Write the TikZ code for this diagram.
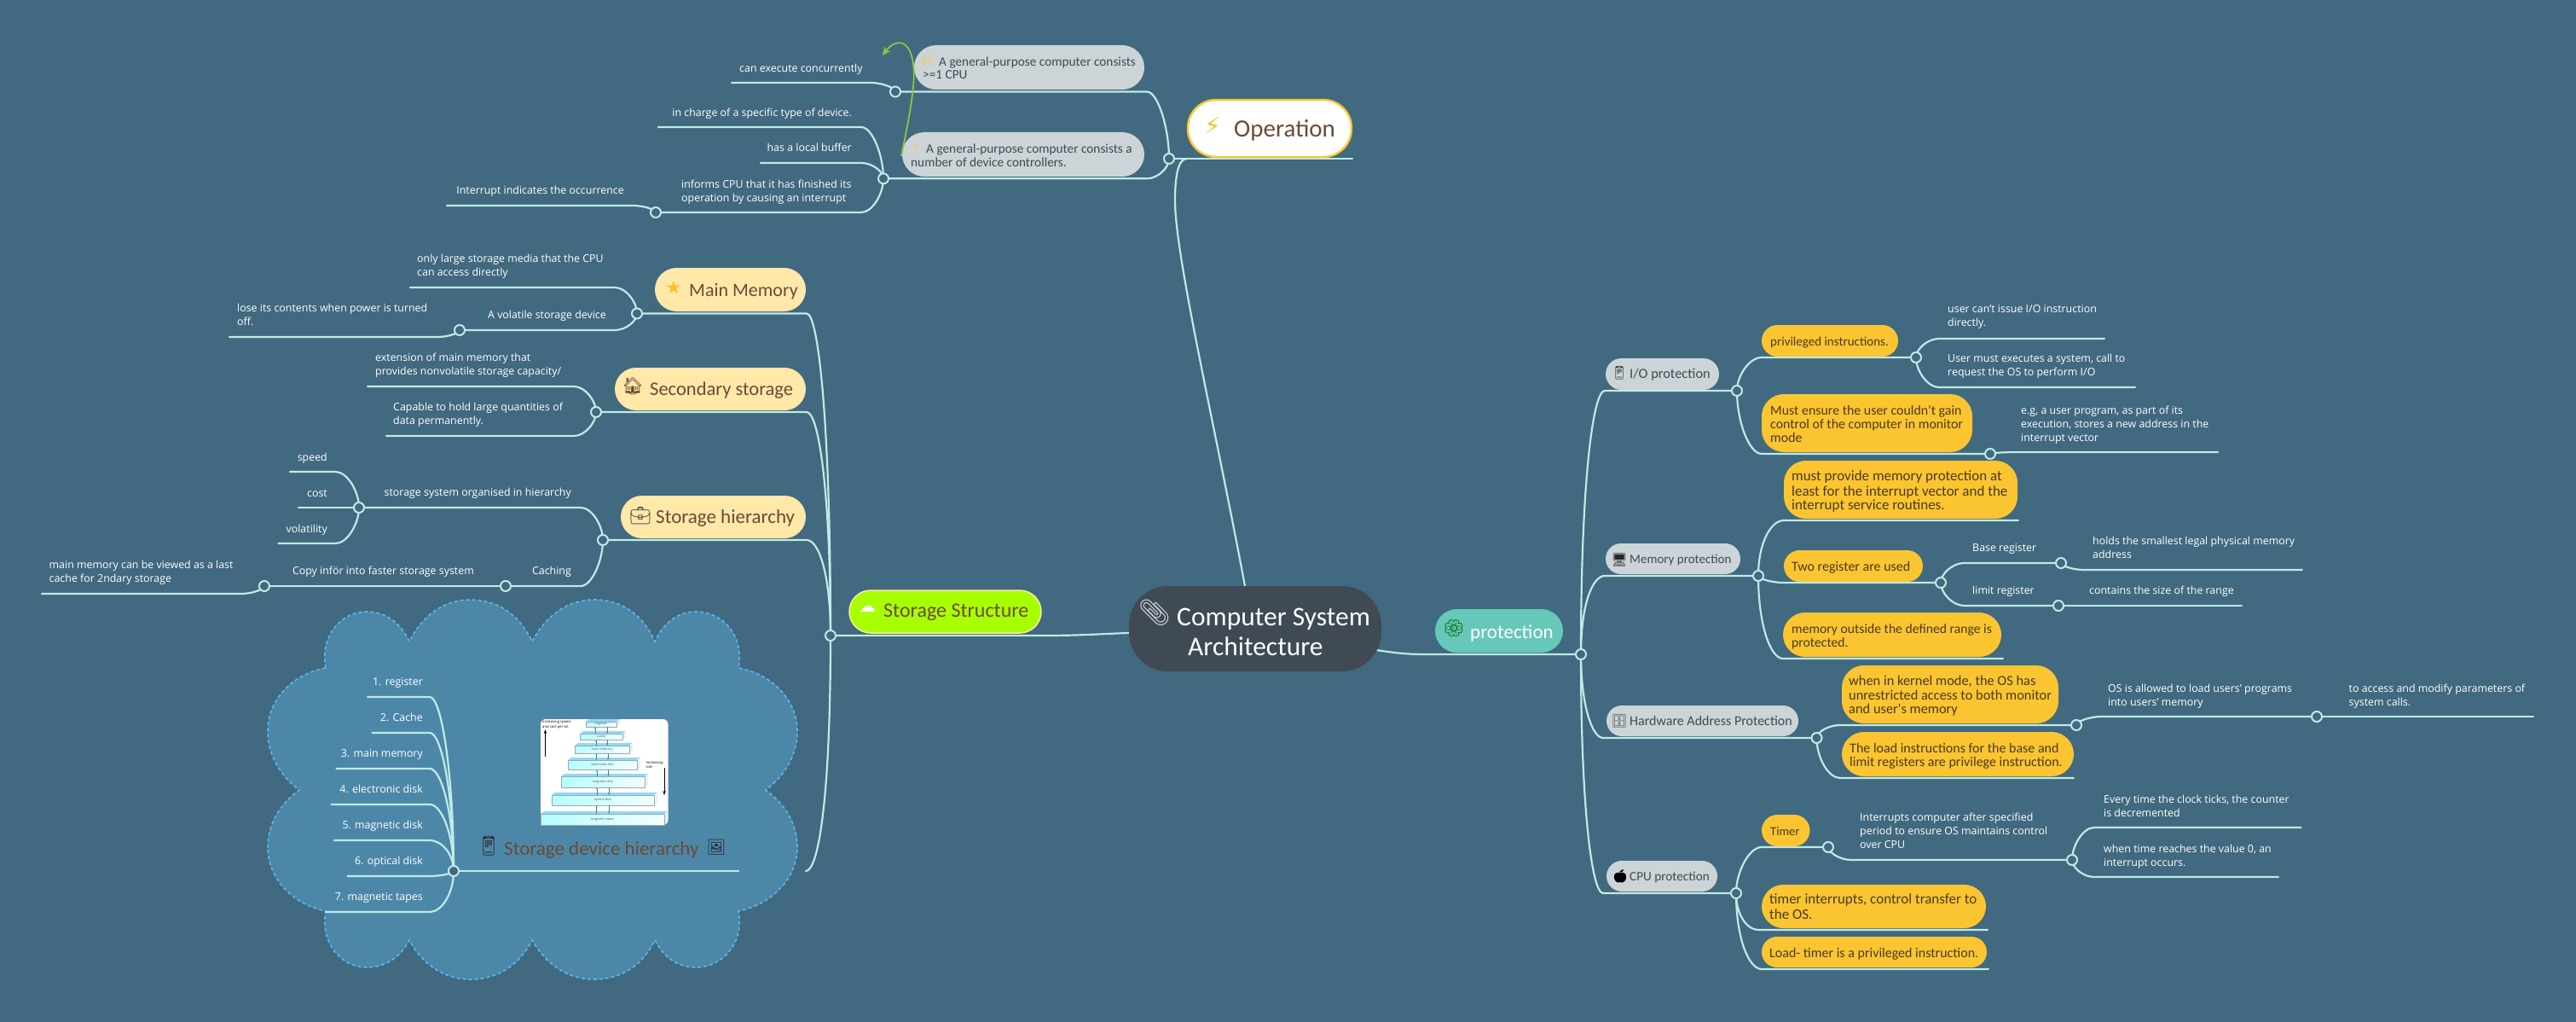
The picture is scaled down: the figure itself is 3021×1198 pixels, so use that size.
\documentclass[tikz,border=0pt]{standalone}
\usepackage{fontspec}
\setmainfont{Open Sans}
\newfontfamily\hwf{Carlito}
\newfontfamily\emo{Noto Emoji}
\newfontfamily\dvs{DejaVu Sans}
\usetikzlibrary{calc,backgrounds,arrows.meta}
\definecolor{bgc}{HTML}{41697F}
\definecolor{cloudc}{HTML}{4D87A8}
\definecolor{dashc}{HTML}{5BB8EF}
\definecolor{linec}{HTML}{BFEAE6}
\definecolor{greyp}{HTML}{CDD4D8}
\definecolor{yelp}{HTML}{FBC531}
\definecolor{creamp}{HTML}{FFE8A8}
\definecolor{brownt}{HTML}{6B4A35}
\definecolor{greyt}{HTML}{3E4A52}
\definecolor{yelt}{HTML}{4A3B1E}
\definecolor{centralc}{HTML}{3F4A54}
\definecolor{limec}{HTML}{A8FF00}
\definecolor{tealp}{HTML}{66C8B8}
\definecolor{greenarrow}{HTML}{8CC63F}
\tikzset{
  conn/.style={draw=linec,line width=2.2pt,line cap=round},
  jn/.style={circle,draw=linec,fill=bgc,line width=2pt,minimum size=12pt,inner sep=0pt},
  pillbase/.style={inner sep=0pt,draw=none},
  lab/.style={inner sep=0pt,align=left,anchor=west,text=white,yshift=-1.2pt,font=\fontsize{12.4}{16}\selectfont},
  labr/.style={inner sep=0pt,align=right,anchor=east,text=white,yshift=-1.2pt,font=\fontsize{12.4}{16}\selectfont},
  hw/.style={inner sep=0pt,align=left,anchor=west,yshift=-1pt},
  icon/.style={inner sep=0pt},
  stackface/.style={draw=black!35,line width=.3pt,left color=cyan!30!white,right color=cyan!5!white},
  stacktxt/.style={inner sep=0pt,font=\fontsize{3.8}{4}\selectfont,text=black!65},
  smalltxt/.style={inner sep=0pt,align=left,anchor=west,font=\fontsize{4.2}{5.5}\selectfont,text=black},
  smallarrow/.style={-{Stealth[length=2.5pt,width=2pt]},draw=cyan!60!black,line width=.5pt},
  blackarrow/.style={-{Stealth[length=5pt,width=3.5pt]},draw=black,line width=.7pt}
}
\newcommand\pill[6]{%
  \pgfmathsetmacro\rrad{min((#5-#3)/2,26)}%
  \pgfmathsetmacro\pw{#4-#2}\pgfmathsetmacro\ph{#5-#3}%
  \pgfmathsetmacro\pcx{(#2+#4)/2}\pgfmathsetmacro\pcy{(#3+#5)/2}%
  \node[pillbase,fill=greyp,rounded corners=\rrad pt,minimum width=\pw pt,minimum height=\ph pt,#6] (#1) at (\pcx,\pcy) {};}
\newcommand\jn[3]{\node[jn] (#1) at (#2,#3) {};}
\newcommand\tl[4]{\node[lab] (#1) at (#2,#3) {\strut #4\strut};}
\newcommand\tr[4]{\node[labr] (#1) at (#2,#3) {\strut #4\strut};}
% name x y colour size text: lines 16 apart
\newcommand\hl[6]{\node[hw,text=#4,font=\hwf\fontsize{#5}{16}\selectfont] (#1) at (#2,#3) {\strut #6\strut};}
\newcommand\hb[6]{\node[hw,text=#4,font=\hwf\fontsize{#5}{#5}\selectfont] (#1) at (#2,#3) {#6};}
\newcommand\ic[6]{\node[icon,text=#5,font=\emo\fontsize{#4}{#4}\selectfont] (#1) at (#2,#3) {#6};}
\newcommand\icd[6]{\node[icon,text=#5,font=\dvs\fontsize{#4}{#4}\selectfont] (#1) at (#2,#3) {#6};}
\newcounter{el}
% ratio, from node, elbow x, elbow y, target
\newcommand\curv[5]{\stepcounter{el}\coordinate (el\theel) at (#3,#4);
  \draw[conn] (#2.center) .. controls ($(#2.center)!#1!(#2.center|-el\theel)$) and ($(el\theel)!0.5!(#2.center|-el\theel)$) .. (el\theel) -- (#5.center);}
% ratio, from node, elbow x, elbow y, free end x
\newcommand\fre[5]{\stepcounter{el}\coordinate (fe\theel) at (#5,#4);\edef\fename{fe\theel}\curv{#1}{#2}{#3}{#4}{\fename}}
\newcommand\stk[6]{% name x1 y1 x2 y2 label
  \fill[cyan!45!white] (#2,#3+3) -- (#2+4,#3) -- (#4,#3) -- (#4-4,#3+3) -- cycle;
  \fill[cyan!12!white] (#4-4,#3+3) -- (#4,#3) -- (#4,#5-3) -- (#4-4,#5) -- cycle;
  \pgfmathsetmacro\pw{#4-#2-4}\pgfmathsetmacro\ph{#5-#3-3}%
  \pgfmathsetmacro\pcx{(#2+#4-4)/2}\pgfmathsetmacro\pcy{(#3+#5+3)/2}%
  \node[stackface,minimum width=\pw pt,minimum height=\ph pt,inner sep=0pt] (#1) at (\pcx,\pcy) {};
  \node[stacktxt] (#1t) at (#1) {#6};}
\begin{document}
\begin{tikzpicture}[x=1pt,y=-1pt]
\useasboundingbox (0,0) rectangle (3021,1198);
% ---------- central and main pills
\pill{central}{1324}{687}{1620}{787}{fill=centralc,rounded corners=46pt}
\ic{iclip}{1354}{718}{30}{greyp}{📎}
\hb{tcen1}{1380}{725}{white}{31.5}{Computer System}
\hb{tcen2}{1393}{757}{white}{31.5}{Architecture}

\pill{opp}{1393}{117}{1585}{184}{fill=white,draw=yelp,line width=2.4pt,rounded corners=33pt}
\icd{iop}{1422}{147}{28}{yelp}{⚡}
\hb{top}{1447}{152}{brownt}{29}{Operation}

\pill{p1}{1072}{53}{1342}{105}{}
\ic{i1}{1088}{71}{13}{yelp}{✨}
\hl{t1a}{1101}{73}{greyt}{15.3}{A general-purpose computer consists}
\hl{t1b}{1082}{88}{greyt}{15.3}{>=1 CPU}
\pill{p2}{1058}{155}{1342}{207}{}
\icd{i2}{1075}{173}{13}{yelp}{⚡}
\hl{t2a}{1086}{175}{greyt}{15.3}{A general-purpose computer consists a}
\hl{t2b}{1068}{191}{greyt}{15.3}{number of device controllers.}

\pill{pmm}{768}{314}{945}{365}{fill=creamp}
\icd{imm}{790}{337}{21}{yelp!90!orange}{★}
\hb{tmm}{808}{341}{brownt}{22}{Main Memory}
\pill{pss}{721}{431}{945}{481}{fill=creamp}
\ic{iss}{742}{453}{20}{brownt}{🏠}
\hb{tss}{762}{457}{brownt}{22.5}{Secondary storage}
\pill{psh}{728}{581}{945}{631}{fill=creamp}
\ic{ish}{751}{605}{20}{black!80}{💼}
\hb{tsh}{769}{606}{brownt}{23}{Storage hierarchy}

\pill{pst}{996}{692}{1221}{742}{fill=limec,draw=creamp,line width=1.5pt}
\icd{ist}{1017}{714}{20}{white}{☁}
\hb{tst}{1036}{717}{brownt}{24}{Storage Structure}

\pill{ppr}{1683}{714}{1833}{765}{fill=tealp}
\ic{ipr}{1705}{737}{20}{green!40!black}{🌼}
\hb{tpr}{1724}{741}{white}{23}{protection}

% ---------- protection children
\pill{pio}{1883}{420}{2016}{457}{}
\ic{iio}{1899}{437}{15}{black!85}{📱}
\hl{tio}{1911}{439}{greyt}{16.4}{I/O protection}
\pill{pmem}{1883}{637}{2041}{673}{}
\ic{imem}{1899}{656}{15}{black!85}{🖥}
\hl{tmem}{1911}{656}{greyt}{15}{Memory protection}
\pill{phw}{1884}{827}{2109}{863}{}
\ic{ihw}{1899}{845}{15}{black!70}{🗄}
\hl{thw}{1911}{846}{greyt}{16}{Hardware Address Protection}
\pill{pcpu}{1884}{1009}{2014}{1045}{}
\ic{icpu}{1900}{1027}{15}{black}{🍎}
\hl{tcpu}{1911}{1028}{greyt}{15.2}{CPU protection}

\pill{ppi}{2066}{381}{2226}{418}{fill=yelp}
\hl{tpi}{2076}{401}{yelt}{15}{privileged instructions.}
\pill{pme}{2066}{462}{2313}{530}{fill=yelp}
\hl{tme}{2076}{498}{yelt}{15.9}{Must ensure the user couldn't gain\\control of the computer in monitor\\mode}
\pill{pmp}{2092}{540}{2366}{608}{fill=yelp}
\hl{tmp}{2101}{576}{yelt}{17}{must provide memory protection at\\least for the interrupt vector and the\\interrupt service routines.}
\pill{ptr}{2092}{645}{2255}{682}{fill=yelp}
\hl{ttr}{2101}{665}{yelt}{16}{Two register are used}
\pill{pmo}{2091}{718}{2347}{770}{fill=yelp}
\hl{tmo}{2101}{746}{yelt}{15.7}{memory outside the defined range is\\protected.}
\pill{pkm}{2160}{780}{2414}{848}{fill=yelp}
\hl{tkm}{2168}{816}{yelt}{16.4}{when in kernel mode, the OS has\\unrestricted access to both monitor\\and user's memory}
\pill{plo}{2160}{858}{2432}{910}{fill=yelp}
\hl{tlo}{2169}{886}{yelt}{16}{The load instructions for the base and\\limit registers are privilege instruction.}
\pill{pti}{2066}{955}{2122.5}{992}{fill=yelp}
\hl{tti}{2076}{975}{yelt}{14.5}{Timer}
\pill{pin}{2066}{1037}{2329}{1088}{fill=yelp}
\hl{tin}{2075}{1064}{yelt}{17}{timer interrupts, control transfer to\\the OS.}
\pill{plt}{2066}{1098}{2330}{1134}{fill=yelp}
\hl{tlt}{2075}{1118}{yelt}{16}{Load- timer is a privileged instruction.}

% ---------- plain labels: operation
\tl{a1}{867}{80}{can execute concurrently}
\tr{a2}{999}{132}{in charge of a specific type of device.}
\tr{a3}{999}{173}{has a local buffer}
\tl{a4}{799}{224}{informs CPU that it has finished its\\operation by causing an interrupt}
\tr{a5}{732}{223}{Interrupt indicates the occurrence}
% storage
\tl{b1}{489}{311}{only large storage media that the CPU\\can access directly}
\tr{b2}{711}{369}{A volatile storage device}
\tl{b3}{278}{369}{lose its contents when power is turned\\off.}
\tl{b4}{440}{427}{extension of main memory that\\provides nonvolatile storage capacity/}
\tl{b5}{461}{485}{Capable to hold large quantities of\\data permanently.}
\tr{b6}{670}{577}{storage system organised in hierarchy}
\tr{b7}{384}{536}{speed}
\tr{b8}{384}{578}{cost}
\tr{b9}{384}{620}{volatility}
\tr{b10}{670}{669}{Caching}
\tr{b11}{556}{669}{Copy inför into faster storage system}
\tl{b12}{57.5}{670}{main memory can be viewed as a last\\cache for 2ndary storage}
% protection
\tl{c1}{2284}{370}{user can't issue I/O instruction\\directly.}
\tl{c2}{2284}{428}{User must executes a system, call to\\request the OS to perform I/O}
\tl{c3}{2370}{497}{e.g, a user program, as part of its\\execution, stores a new address in the\\interrupt vector}
\tl{c4}{2313}{642}{Base register}
\tl{c5}{2454}{642}{holds the smallest legal physical memory\\address}
\tl{c6}{2313}{692}{limit register}
\tl{c7}{2450}{692}{contains the size of the range}
\tl{c8}{2472}{815}{OS is allowed to load users' programs\\into users' memory}
\tl{c9}{2754.5}{815}{to access and modify parameters of\\system calls.}
\tl{c10}{2181}{974}{Interrupts computer after specified\\period to ensure OS maintains control\\over CPU}
\tl{c11}{2467}{945}{Every time the clock ticks, the counter\\is decremented}
\tl{c12}{2467}{1003}{when time reaches the value 0, an\\interrupt occurs.}

% ---------- storage device hierarchy
\tr{d1}{496}{799}{1. register}
\tr{d2}{496}{841}{2. Cache}
\tr{d3}{496}{883}{3. main memory}
\tr{d4}{496}{925}{4. electronic disk}
\tr{d5}{496}{967}{5. magnetic disk}
\tr{d6}{496}{1009}{6. optical disk}
\tr{d7}{496}{1051}{7. magnetic tapes}
\ic{idv}{573}{992}{22}{black!85}{📱}
\hb{tdv}{591}{995}{brownt}{23}{Storage device hierarchy}
\ic{iim}{840}{993}{18}{black!85}{🖼}
\node[fill=white,rounded corners=6pt,minimum width=149.5pt,minimum height=124pt,inner sep=0pt] (photo) at (708.75,905) {};
\stk{s1}{687}{843}{727}{852}{register}
\stk{s2}{680}{857}{734}{867}{cache}
\stk{s3}{674}{871}{742}{883}{main memory}
\stk{s4}{666}{888}{751}{902}{solid-state disk}
\stk{s5}{658}{907}{760}{923}{magnetic disk}
\stk{s6}{647}{929}{771}{944}{optical disk}
\stk{s7}{634}{951}{783}{967}{magnetic tapes}
\foreach \u/\l in {s1/s2,s2/s3,s3/s4,s4/s5,s5/s6,s6/s7}{
  \draw[smallarrow] ([xshift=-7pt]\l.north) -- ([xshift=-7pt]\l.north|-\u.south);
  \draw[smallarrow] ([xshift=7pt]\u.south) -- ([xshift=7pt]\u.south|-\l.north);
}
\node[smalltxt] (sa) at (636,849.5) {increasing speed\\and cost per bit};
\node[smalltxt] (sb) at (757.5,896.5) {increasing\\size};
\coordinate (sa1) at (639.5,887);\coordinate (sa2) at (639.5,855);
\coordinate (sb1) at (779,900);\coordinate (sb2) at (779,932);
\draw[blackarrow] (sa1) -- (sa2);
\draw[blackarrow] (sb1) -- (sb2);

% ---------- junctions
\jn{jop}{1371}{186}\jn{j1}{1050}{107.5}\jn{j2}{1036}{209.3}\jn{j3}{769}{249}
\jn{jst}{974}{745}\jn{jmm}{747}{367.5}\jn{j5}{539}{387}\jn{jss}{699}{483}
\jn{jsh}{707}{633}\jn{j6}{421}{595}\jn{j7}{593}{687}\jn{j8}{310}{687}\jn{jsd}{532}{1021}
\jn{jpr}{1854}{767}\jn{jio}{2037}{458}\jn{jpi}{2247}{419}\jn{jme}{2334}{532}
\jn{jmem}{2062}{675}\jn{jtr}{2276}{683}\jn{jba}{2417}{660}\jn{jli}{2414}{710}
\jn{jhw}{2130.5}{865}\jn{jkm}{2435}{850}\jn{jos}{2717}{840}
\jn{jcpu}{2036}{1047}\jn{jti}{2144}{993}\jn{jit}{2430}{1008}

% ---------- background, cloud and connectors
\begin{scope}[on background layer]
\fill[bgc] (0,0) rectangle (3021,1198);
\draw[fill=cloudc,draw=dashc,line width=1.6pt,dash pattern=on 4pt off 3pt]
 (382,783) .. controls (375,745) and (400,717) .. (430,717) .. controls (452,717) and (470,730) .. (480,752)
 .. controls (495,722) and (520,703) .. (551.5,703) .. controls (585,703) and (610,722) .. (624,752)
 .. controls (640,722) and (665,703) .. (697,703) .. controls (730,703) and (755,722) .. (768,752)
 .. controls (778,730) and (795,717) .. (816,717) .. controls (848,717) and (873,745) .. (866,783)
 .. controls (905,790) and (935,820) .. (935,857) .. controls (935,885) and (920,910) .. (898,926)
 .. controls (920,942) and (935,965) .. (935,993) .. controls (935,1030) and (905,1060) .. (866,1068)
 .. controls (873,1105) and (848,1134) .. (816,1134) .. controls (795,1134) and (778,1122) .. (768,1102)
 .. controls (755,1130) and (730,1148) .. (697,1148) .. controls (665,1148) and (640,1130) .. (624,1102)
 .. controls (610,1130) and (585,1148) .. (551.5,1148) .. controls (520,1148) and (495,1130) .. (480,1102)
 .. controls (470,1122) and (452,1134) .. (430,1134) .. controls (400,1134) and (375,1105) .. (382,1068)
 .. controls (343,1060) and (314,1030) .. (314,993) .. controls (314,965) and (329,942) .. (351,926)
 .. controls (329,910) and (314,885) .. (314,857) .. controls (314,820) and (343,790) .. (382,783) -- cycle;
% central to main topics
\coordinate (cs) at (1324,742);\coordinate (cr) at (1614,762);\coordinate (ct) at (1460,687);
\coordinate (opend) at (1586,186);
\draw[conn] (jst.center) -- (1224,745) .. controls (1270,745) and (1290,743) .. (cs);
\draw[conn] (jpr.center) -- (1676,767) .. controls (1650,767) and (1640,766) .. (cr);
\draw[conn] (ct) .. controls (1425,500) and (1378,300) .. (1378,235) .. controls (1378,205) and (1382,186) .. (1392,186);
\draw[conn] (jop.center) -- (opend);
% operation
\curv{.45}{jop}{1345}{107.5}{j1}
\fre{.4}{j1}{1021}{97}{858}
\curv{.45}{jop}{1345}{209.3}{j2}
\fre{.45}{j2}{1010}{149}{772}
\fre{.45}{j2}{1010}{191}{892}
\curv{.45}{j2}{1010}{249}{j3}
\fre{.4}{j3}{742}{241}{524}
% storage trunk
\curv{.65}{jst}{946}{367.5}{jmm}
\curv{.65}{jst}{946}{483}{jss}
\curv{.65}{jst}{946}{633}{jsh}
\fre{.7}{jst}{945}{1021}{945}
\draw[conn] (jsd.center) -- (866,1021);
\fre{.45}{jmm}{721}{337}{481}
\curv{.45}{jmm}{721}{387}{j5}
\fre{.4}{j5}{513}{395}{269}
\fre{.45}{jss}{673}{453}{431}
\fre{.45}{jss}{673}{511}{453}
\curv{.45}{jsh}{681}{595}{j6}
\fre{.45}{j6}{393.5}{553}{340}
\draw[conn] (j6.center) -- (350,595);
\fre{.45}{j6}{393.5}{637}{326.5}
\curv{.45}{jsh}{681}{687}{j7}
\draw[conn] (j7.center) -- (j8.center);
\fre{.4}{j8}{282.6}{696}{49}
\fre{.55}{jsd}{504}{817}{431}
\fre{.55}{jsd}{504}{859}{436.6}
\fre{.55}{jsd}{504}{901}{394.5}
\fre{.55}{jsd}{504}{943}{388.5}
\fre{.55}{jsd}{504}{985}{392}
\fre{.4}{jsd}{504}{1027}{407.5}
\fre{.55}{jsd}{504}{1069}{382}
% protection trunk
\curv{.65}{jpr}{1882}{458}{jio}
\curv{.65}{jpr}{1882}{675}{jmem}
\curv{.6}{jpr}{1880}{865}{jhw}
\curv{.65}{jpr}{1880}{1047}{jcpu}
\curv{.45}{jio}{2066}{419}{jpi}
\fre{.45}{jpi}{2274}{397}{2468}
\fre{.45}{jpi}{2274}{454}{2504}
\curv{.5}{jio}{2066}{532}{jme}
\fre{.4}{jme}{2364}{530}{2601}
\fre{.6}{jmem}{2092}{610}{2367}
\curv{.4}{jmem}{2092}{683}{jtr}
\curv{.45}{jtr}{2303.5}{660}{jba}
\fre{.4}{jba}{2444}{668}{2700}
\curv{.45}{jtr}{2303.5}{710}{jli}
\draw[conn] (jli.center) -- (2629,710);
\fre{.6}{jmem}{2091}{772}{2349}
\curv{.45}{jhw}{2158}{850}{jkm}
\fre{.5}{jhw}{2158}{912}{2432}
\curv{.4}{jkm}{2464}{840}{jos}
\draw[conn] (jos.center) -- (2971,840);
\curv{.45}{jcpu}{2066}{993}{jti}
\curv{.4}{jti}{2171}{1008}{jit}
\fre{.45}{jit}{2456}{970}{2698.5}
\fre{.45}{jit}{2456}{1028}{2672}
\fre{.6}{jcpu}{2062}{1090}{2331}
\fre{.6}{jcpu}{2066}{1136}{2332}
\end{scope}
% green relation arrow
\coordinate (ga) at (1057,183);\coordinate (gb) at (1035,65);
\draw[greenarrow,line width=1.8pt,-{Stealth[length=10pt,width=9pt]}] (ga) .. controls (1068,130) and (1074,95) .. (1071,75) .. controls (1067,45) and (1050,45) .. (gb);
\end{tikzpicture}
\end{document}
